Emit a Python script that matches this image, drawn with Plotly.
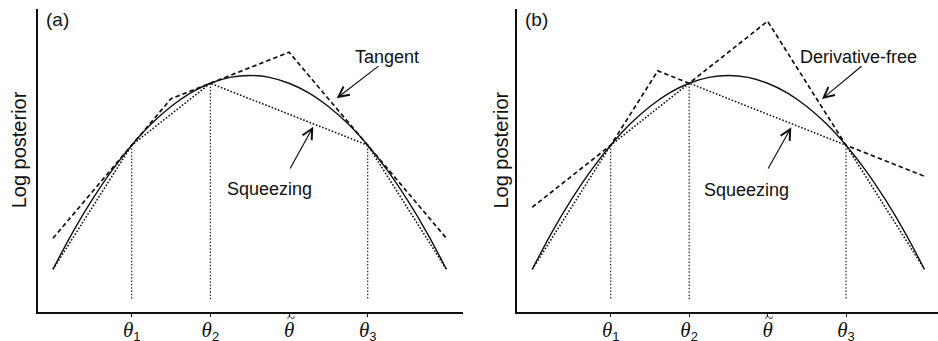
import plotly.graph_objects as go

# Log-posterior curve sampled on a grid
theta_grid = [-2.5, -2.25, -2.0, -1.75, -1.5, -1.25, -1.0, -0.75, -0.5, -0.25, 0.0,
              0.25, 0.5, 0.75, 1.0, 1.25, 1.5, 1.75, 2.0, 2.25, 2.5]
log_post = [-6.25, -5.06, -4.0, -3.06, -2.25, -1.56, -1.0, -0.56, -0.25, -0.06, 0.0,
            -0.06, -0.25, -0.56, -1.0, -1.56, -2.25, -3.06, -4.0, -5.06, -6.25]

# Abscissae where the density has been evaluated
support_x = [-1.5, -0.5, 1.5]
support_y = [-2.25, -0.25, -2.25]

# Tangent-based upper hull (panel a)
tangent_x = [-2.5, -1.0, 0.5, 2.5]
tangent_y = [-5.25, -0.75, 0.75, -5.25]

# Derivative-free upper hull (panel b)
dfree_x = [-2.5, -1.5, -0.9, -0.5, 0.5, 1.5, 2.5]
dfree_y = [-4.25, -2.25, 0.15, -0.25, 1.75, -2.25, -3.25]

# Squeezing (chord) lower hull, both panels
squeeze_x = [-2.5, -1.5, -0.5, 1.5, 2.5]
squeeze_y = [-6.25, -2.25, -0.25, -2.25, -6.25]

tick_vals = [-1.5, -0.5, 0.5, 1.5]
sub = '<sub><span style="font-family:Liberation Sans;font-size:13px">{}</span></sub>'
tick_text = ['<i>θ</i>' + sub.format('1'),
             '<i>θ</i>' + sub.format('2'),
             '<i>θ</i>',
             '<i>θ</i>' + sub.format('3')]
mode_tick = 0.5  # the tick that carries a tilde (mode estimate)

vline_bottom = -7.25
INK = '#111111'

fig = go.Figure()

for xa, ya, upper_x, upper_y in [('x', 'y', tangent_x, tangent_y),
                                  ('x2', 'y2', dfree_x, dfree_y)]:
    # vertical guides at the support points
    for sx, sy in zip(support_x, support_y):
        fig.add_trace(go.Scatter(x=[sx, sx], y=[sy, vline_bottom], mode='lines',
                                 line=dict(color=INK, width=1.1, dash='1.5px,1.8px'),
                                 xaxis=xa, yaxis=ya, showlegend=False, hoverinfo='skip'))
    fig.add_trace(go.Scatter(x=squeeze_x, y=squeeze_y, mode='lines',
                             line=dict(color=INK, width=1.6, dash='1.6px,1.8px'),
                             xaxis=xa, yaxis=ya, showlegend=False, hoverinfo='skip'))
    fig.add_trace(go.Scatter(x=theta_grid, y=log_post, mode='lines',
                             line=dict(color=INK, width=1.4, shape='spline'),
                             xaxis=xa, yaxis=ya, showlegend=False, hoverinfo='skip'))
    fig.add_trace(go.Scatter(x=upper_x, y=upper_y, mode='lines',
                             line=dict(color=INK, width=1.7, dash='4.5px,3px'),
                             xaxis=xa, yaxis=ya, showlegend=False, hoverinfo='skip'))

xcommon = dict(showline=True, linewidth=1.5, linecolor=INK, ticks='outside',
               ticklen=4, tickwidth=1.2, tickcolor=INK, tickvals=tick_vals,
               ticktext=tick_text, showgrid=False, zeroline=False,
               automargin=False, ticklabelstandoff=-6,
               tickfont=dict(family='Liberation Serif', size=21, color=INK))
ycommon = dict(showline=True, linewidth=1.5, linecolor=INK, ticks='',
               showticklabels=False, showgrid=False, zeroline=False,
               automargin=False,
               domain=[0.0859, 0.9727], range=[-7.62, 2.135])

fig.update_layout(
    width=938, height=341, margin=dict(l=0, r=0, t=0, b=0, autoexpand=False),
    plot_bgcolor='white', paper_bgcolor='white',
    xaxis=dict(domain=[0.04083, 0.4933], range=[-2.687, 2.7075], anchor='y', **xcommon),
    yaxis=dict(anchor='x', **ycommon),
    xaxis2=dict(domain=[0.5515, 1.0], range=[-2.691, 2.673], anchor='y2', **xcommon),
    yaxis2=dict(anchor='x2', **ycommon),
)

label_font = dict(family='Liberation Sans', size=18, color=INK)

def arrow(xa, ya, head, tail):
    fig.add_annotation(x=head[0], y=head[1], ax=tail[0], ay=tail[1],
                       xref=xa, yref=ya, axref=xa, ayref=ya, text='',
                       showarrow=True, arrowhead=5, arrowsize=1.7,
                       arrowwidth=1.2, arrowcolor=INK)

def label(xa, ya, pos, text):
    fig.add_annotation(x=pos[0], y=pos[1], xref=xa, yref=ya, text=text,
                       showarrow=False, font=label_font,
                       xanchor='center', yanchor='middle')

# Panel (a)
label('x', 'y', (1.741, 0.587), 'Tangent')
arrow('x', 'y', (1.106, -0.735), (1.656, 0.339))
label('x', 'y', (0.258, -3.67), 'Squeezing')
arrow('x', 'y', (0.808, -1.65), (0.503, -3.05))

# Panel (b)
label('x2', 'y2', (1.662, 0.606), 'Derivative-free')
arrow('x2', 'y2', (1.194, -0.758), (1.717, 0.339))
label('x2', 'y2', (0.229, -3.69), 'Squeezing')
arrow('x2', 'y2', (0.803, -1.67), (0.497, -3.05))

# Tilde accent over the mode tick label
for xa in ['x', 'x2']:
    fig.add_annotation(x=mode_tick, y=0.066, xref=xa, yref='paper', text='~',
                       showarrow=False, xshift=1.5,
                       font=dict(family='Liberation Serif', size=15, color=INK),
                       xanchor='center', yanchor='middle')

# Panel tags and axis titles
for px, tag in [(0.0618, '(a)'), (0.572, '(b)')]:
    fig.add_annotation(x=px, y=0.943, xref='paper', yref='paper', text=tag,
                       showarrow=False,
                       font=dict(family='Liberation Sans', size=19, color=INK),
                       xanchor='center', yanchor='middle')
for px in [0.0203, 0.5344]:
    fig.add_annotation(x=px, y=0.5592, xref='paper', yref='paper',
                       text='Log posterior', textangle=-90, showarrow=False,
                       font=dict(family='Liberation Sans', size=20, color=INK),
                       xanchor='center', yanchor='middle')

fig.write_html('out.html')
